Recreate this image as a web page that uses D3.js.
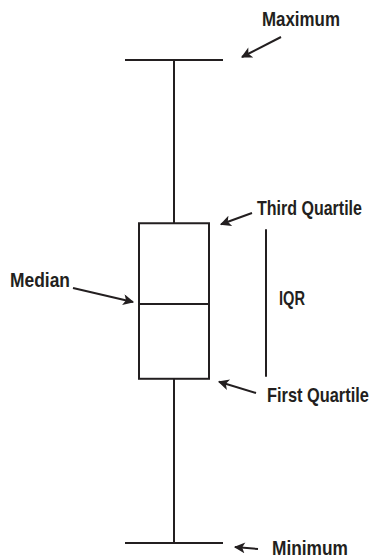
<!DOCTYPE html>
<html>
<head>
<meta charset="utf-8">
<script src="https://cdn.jsdelivr.net/npm/d3@7"></script>
<style>
  html, body { margin: 0; padding: 0; background: #fff; }
  svg { display: block; }
  .lbl { font-family: "Liberation Sans", Arial, sans-serif; font-weight: bold; font-size: 20px; fill: #231f20; }
</style>
</head>
<body>
<svg id="chart" width="373" height="559"></svg>
<script>
// five-number summary (arbitrary units)
const statNames = ['Minimum', 'First Quartile', 'Median', 'Third Quartile', 'Maximum'];
const statValues = [0, 34, 49.5, 66.2, 100];

const labelTexts = ['Maximum', 'Third Quartile', 'Median', 'IQR', 'First Quartile', 'Minimum'];

const svg = d3.select('#chart');
const ink = '#231f20';

const [vMin, vQ1, vMed, vQ3, vMax] = statValues;

const y = d3.scaleLinear().domain([0, 100]).range([543, 60]);
const x = d3.scaleBand().domain(['box']).range([125, 223]);

const cx = x('box') + x.bandwidth() / 2;
const capW = x.bandwidth();
const boxW = 70;

svg.append('defs').append('marker')
  .attr('id', 'head')
  .attr('viewBox', '0 0 10 10')
  .attr('refX', 9)
  .attr('refY', 5)
  .attr('markerWidth', 13)
  .attr('markerHeight', 11)
  .attr('markerUnits', 'userSpaceOnUse')
  .attr('orient', 'auto')
  .append('path')
  .attr('d', 'M0,0 L10,5 L0,10 L2.5,5 Z')
  .attr('fill', ink);

const g = svg.append('g').attr('stroke', ink).attr('stroke-width', 2).attr('fill', 'none');

// whisker stem
g.append('line')
  .attr('x1', cx).attr('x2', cx)
  .attr('y1', y(vMin)).attr('y2', y(vMax));

// caps
g.selectAll('line.cap')
  .data([vMin, vMax])
  .enter()
  .append('line')
  .attr('class', 'cap')
  .attr('x1', cx - capW / 2).attr('x2', cx + capW / 2)
  .attr('y1', d => y(d)).attr('y2', d => y(d));

// box
g.append('rect')
  .attr('x', cx - boxW / 2)
  .attr('y', y(vQ3))
  .attr('width', boxW)
  .attr('height', y(vQ1) - y(vQ3))
  .attr('fill', '#fff');

// median
g.append('line')
  .attr('x1', cx - boxW / 2).attr('x2', cx + boxW / 2)
  .attr('y1', y(vMed)).attr('y2', y(vMed));

// IQR bar
g.append('line')
  .attr('x1', 266).attr('x2', 266)
  .attr('y1', y(vQ3) + 6).attr('y2', y(vQ1) - 2);

// annotation arrows: [from x, from y, to x, to y]
const arrows = [
  [281, 37, 242, y(vMax) - 3],
  [252, 213, 221, y(vQ3) + 1],
  [73, 288, 133, y(vMed) - 2],
  [256, 393, 219, y(vQ1) + 3],
  [258, 549, 235, y(vMin) + 4]
];

g.selectAll('line.arrow')
  .data(arrows)
  .enter()
  .append('line')
  .attr('class', 'arrow')
  .attr('x1', d => d[0]).attr('y1', d => d[1])
  .attr('x2', d => d[2]).attr('y2', d => d[3])
  .attr('marker-end', 'url(#head)');

// [x, baseline, width] -- no condensed face installed, so squeeze horizontally
const labelPos = [
  [262, 26, 78],
  [257, 215, 105],
  [10, 287, 60],
  [279, 305, 26],
  [267, 402, 102],
  [272, 555, 76]
];

svg.selectAll('text.lbl')
  .data(labelTexts)
  .enter()
  .append('text')
  .attr('class', 'lbl')
  .text(d => d)
  .each(function (d, i) {
    const [lx, ly, w] = labelPos[i];
    const sx = w / this.getComputedTextLength();
    d3.select(this).attr('transform', `translate(${lx},${ly}) scale(${sx},1)`);
  });
</script>
</body>
</html>
